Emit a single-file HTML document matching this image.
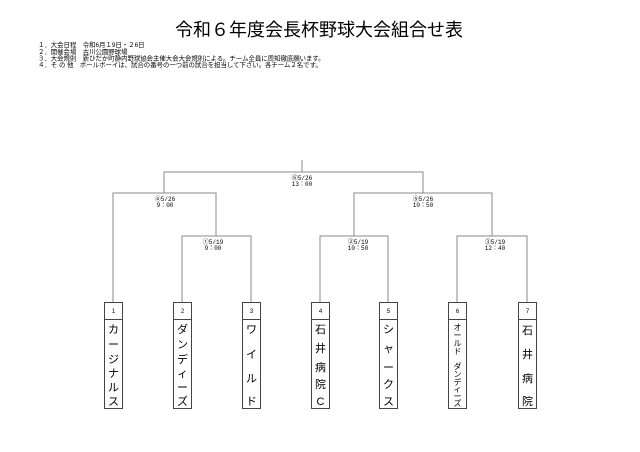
<!DOCTYPE html>
<html><head><meta charset="utf-8"><style>
html,body{margin:0;padding:0;background:#fff;}
body{width:640px;height:452px;overflow:hidden;position:relative;font-family:"Liberation Sans","Noto Sans CJK JP",sans-serif;}
</style></head><body>
<svg width="640" height="452" xmlns="http://www.w3.org/2000/svg" style="position:absolute;left:0;top:0">
<text x="319" y="36" font-size="18" text-anchor="middle" font-family="Liberation Sans, Noto Sans CJK JP, sans-serif" fill="#000">令和６年度会長杯野球大会組合せ表</text>
<g font-size="6.4" font-family="Liberation Sans, Noto Sans CJK JP, sans-serif" fill="#000">
<text x="38" y="47">１．大会日程　令和6月１9日・２6日</text>
<text x="38" y="54">２．開催会場　古川公園野球場</text>
<text x="38" y="60.5">３．大会規則　新ひだか町静内野球協会主催大会大会規則による。チーム全員に周知徹底願います。</text>
<text x="38" y="67">４．そ の 他　ボールボーイは、試合の番号の一つ前の試合を担当して下さい。各チーム２名です。</text>
</g>
<g stroke="#888" stroke-width="1" fill="none">
<path d="M302 160V172M164 193V172H423V193"/>
<path d="M113 302V193H216V236M354 236V193H492V236"/>
<path d="M182 302V236H251V302M320 302V236H388V302M457 302V236H527V302"/>
</g>
<g font-size="6" font-family="Liberation Mono, Noto Sans CJK JP, monospace" fill="#000" text-anchor="middle">
<text x="302" y="180">⑥5/26</text><text x="302" y="186">13：00</text>
<text x="165" y="201">④5/26</text><text x="165" y="207">9：00</text>
<text x="423" y="201">⑤5/26</text><text x="423" y="207">10：50</text>
<text x="213" y="244">①5/19</text><text x="213" y="250">9：00</text>
<text x="358" y="244">②5/19</text><text x="358" y="250">10：50</text>
<text x="495" y="244">③5/19</text><text x="495" y="250">12：40</text>
</g>
<g stroke="#444" stroke-width="1" fill="#fff">
<rect x="104.5" y="302.5" width="18" height="106"/><line x1="104.5" y1="319.5" x2="122.5" y2="319.5"/>
<rect x="173.5" y="302.5" width="18" height="106"/><line x1="173.5" y1="319.5" x2="191.5" y2="319.5"/>
<rect x="242.5" y="302.5" width="18" height="106"/><line x1="242.5" y1="319.5" x2="260.5" y2="319.5"/>
<rect x="311.5" y="302.5" width="18" height="106"/><line x1="311.5" y1="319.5" x2="329.5" y2="319.5"/>
<rect x="379.5" y="302.5" width="18" height="106"/><line x1="379.5" y1="319.5" x2="397.5" y2="319.5"/>
<rect x="448.5" y="302.5" width="18" height="106"/><line x1="448.5" y1="319.5" x2="466.5" y2="319.5"/>
<rect x="518.5" y="302.5" width="18" height="106"/><line x1="518.5" y1="319.5" x2="536.5" y2="319.5"/>
</g>
<g font-size="6" fill="#000" text-anchor="middle" font-family="Liberation Sans, sans-serif">
<text x="113.5" y="313">1</text><text x="182.5" y="313">2</text><text x="251.5" y="313">3</text><text x="320.5" y="313">4</text><text x="388.5" y="313">5</text><text x="457.5" y="313">6</text><text x="527.5" y="313">7</text>
</g>
<g font-size="11" fill="#000" text-anchor="middle" font-family="Liberation Sans, Noto Sans CJK JP, sans-serif">
<text x="113.5" y="333">カ</text><text x="113.5" y="348">ー</text><text x="113.5" y="363">ジ</text><text x="113.5" y="377">ナ</text><text x="113.5" y="391">ル</text><text x="113.5" y="405">ス</text>
<text x="182.5" y="333">ダ</text><text x="182.5" y="348">ン</text><text x="182.5" y="363">デ</text><text x="182.5" y="377">ィ</text><text x="182.5" y="391">ー</text><text x="182.5" y="405">ズ</text>
<text x="251.5" y="333">ワ</text><text x="251.5" y="358">イ</text><text x="251.5" y="382">ル</text><text x="251.5" y="405">ド</text>
<text x="320.5" y="333">石</text><text x="320.5" y="352">井</text><text x="320.5" y="371">病</text><text x="320.5" y="388">院</text><text x="320.5" y="405">C</text>
<text x="388.5" y="333">シ</text><text x="388.5" y="352">ャ</text><text x="388.5" y="371">ー</text><text x="388.5" y="388">ク</text><text x="388.5" y="405">ス</text>
<text x="527.5" y="334">石</text><text x="527.5" y="358">井</text><text x="527.5" y="382">病</text><text x="527.5" y="405">院</text>
</g>
<g font-size="8" fill="#000" text-anchor="middle" font-family="Liberation Sans, Noto Sans CJK JP, sans-serif">
<text x="457.5" y="330">オ</text><text x="457.5" y="338">ー</text><text x="457.5" y="346">ル</text><text x="457.5" y="354">ド</text>
<text x="457.5" y="369">ダ</text><text x="457.5" y="377">ン</text><text x="457.5" y="385">デ</text><text x="457.5" y="392">ィ</text><text x="457.5" y="399">ー</text><text x="457.5" y="406">ズ</text>
</g>
</svg>
</body></html>
